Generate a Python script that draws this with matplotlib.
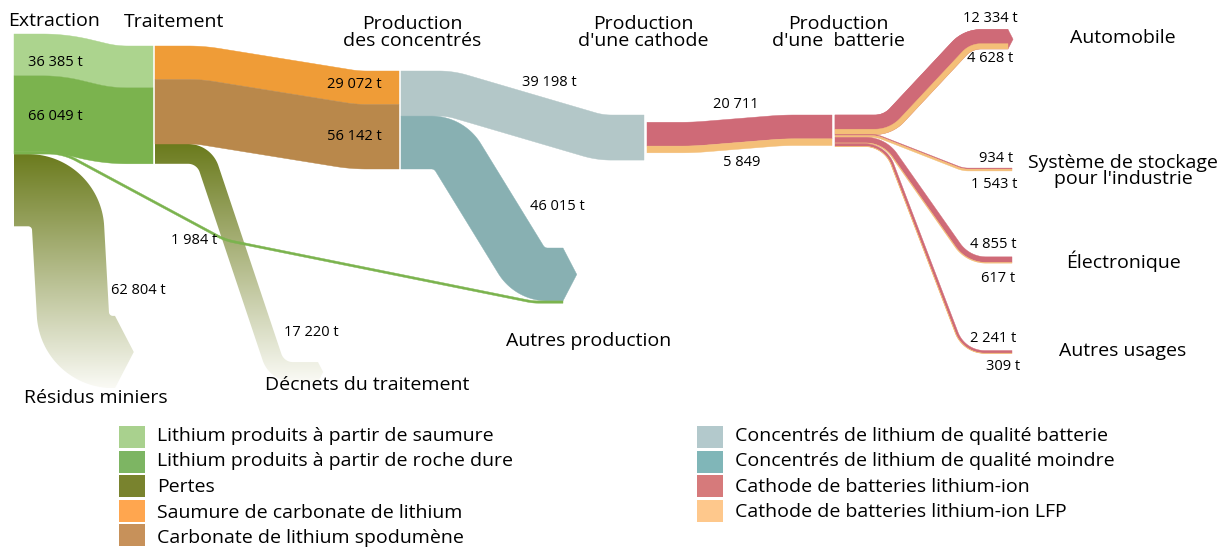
import numpy as np
import matplotlib.pyplot as plt
import matplotlib.colors as mcolors
from matplotlib.patches import Polygon, Rectangle

plt.rcParams['font.family'] = ['Open Sans', 'DejaVu Sans']

# --- données (tonnes de lithium) ---
etapes = ["Extraction", "Traitement", "Production\ndes concentrés",
          "Production\nd'une cathode", "Production\nd'une  batterie"]
extraction_t = [36385, 66049]          # saumure, roche dure
traitement_t = [29072, 56142]          # saumure de carbonate, carbonate spodumène
pertes_t = [62804, 17220]              # résidus miniers, déchets du traitement
roche_vers_autres_t = 1984
concentres_t = [39198, 46015]          # qualité batterie, qualité moindre
cathode_t = [20711, 5849]              # lithium-ion, lithium-ion LFP
usages = ["Automobile", "Système de stockage\npour l'industrie",
          "Électronique", "Autres usages"]
usage_ion_t = [12334, 934, 4855, 2241]
usage_lfp_t = [4628, 1543, 617, 309]
destinations = ["Résidus miniers", "Décnets du traitement", "Autres production"]

legende_g = ["Lithium produits à partir de saumure",
             "Lithium produits à partir de roche dure", "Pertes",
             "Saumure de carbonate de lithium", "Carbonate de lithium spodumène"]
legende_d = ["Concentrés de lithium de qualité batterie",
             "Concentrés de lithium de qualité moindre",
             "Cathode de batteries lithium-ion",
             "Cathode de batteries lithium-ion LFP"]
couleurs_g = ["#a9d18e", "#7db563", "#79832e", "#ffa64f", "#c7915a"]
couleurs_d = ["#b3c9cc", "#80b6b8", "#d67a7b", "#fec88c"]

# couleurs des flux
C_SAUM, C_ROCHE, C_PERTE = "#acd48e", "#7bb34e", "#6b7b1d"
C_ORANGE, C_BRUN = "#ef9c37", "#b9884b"
C_CBAT, C_CMOI = "#b3c7c8", "#88b0b2"
C_ION, C_LFP = "#cf6a77", "#f4bf78"

K = 0.00115  # px par tonne


def t_lab(v, unite=True):
    s = f"{v:,}".replace(",", " ")
    return s + " t" if unite else s


def unit(v):
    return v / np.linalg.norm(v)


def fillet(pts, r, n=40):
    pts = np.asarray(pts, float)
    P, T = [pts[0]], [unit(pts[1] - pts[0])]
    m = len(pts)
    for i in range(1, m - 1):
        p0, p1, p2 = pts[i - 1], pts[i], pts[i + 1]
        d1, d2 = unit(p1 - p0), unit(p2 - p1)
        phi = np.arccos(np.clip(d1 @ d2, -1, 1))
        if phi < 1e-4:
            P.append(p1); T.append(d1)
            continue
        l1 = np.linalg.norm(p1 - p0) * (1.0 if i == 1 else 0.5)
        l2 = np.linalg.norm(p2 - p1) * (1.0 if i == m - 2 else 0.5)
        t = min(r * np.tan(phi / 2), l1, l2)
        rr = t / np.tan(phi / 2)
        s = np.sign(d1[0] * d2[1] - d1[1] * d2[0])
        nv = s * np.array([-d1[1], d1[0]])
        c = p1 - d1 * t + nv * rr
        for k in range(n + 1):
            a = s * phi * k / n
            ca, sa = np.cos(a), np.sin(a)
            tk = np.array([d1[0] * ca - d1[1] * sa, d1[0] * sa + d1[1] * ca])
            nk = s * np.array([-tk[1], tk[0]])
            P.append(c - nk * rr); T.append(tk)
    P.append(pts[-1]); T.append(unit(pts[-1] - pts[-2]))
    return np.array(P), np.array(T)


def ribbon(pts, r, lo, hi, arrow=False):
    P, T = fillet(pts, r)
    N = np.column_stack([-T[:, 1], T[:, 0]])
    parts = [P + lo * N]
    if arrow:
        tip = P[-1] + 0.5 * (lo + hi) * N[-1] + T[-1] * 0.26 * (hi - lo)
        parts.append(tip[None])
    parts.append((P + hi * N)[::-1])
    return np.vstack(parts)


def draw(ax, xy, color, z=2):
    ax.add_patch(Polygon(xy, closed=True, fc=color, ec=color, lw=0.3, zorder=z))


def draw_grad(ax, xy, color):
    patch = Polygon(xy, closed=True, fc='none', ec='none')
    ax.add_patch(patch)
    t = np.linspace(0, 1, 256)[:, None]
    img = np.array(mcolors.to_rgb(color)) * (1 - t) + np.array([0.98, 0.98, 0.96]) * t
    im = ax.imshow(img[:, None, :], extent=(xy[:, 0].min(), xy[:, 0].max(),
                                           xy[:, 1].max(), xy[:, 1].min()),
                   aspect='auto', interpolation='bilinear', zorder=1)
    im.set_clip_path(patch)


fig = plt.figure(figsize=(12.27, 5.51), dpi=100)
ax = fig.add_axes([0, 0, 1, 1])

# --- Extraction -> Traitement ---
w_ext = [v * K for v in extraction_t]
gw = sum(w_ext)
y0, y1 = 34, 46
c0, c1 = y0 + gw / 2, y1 + gw / 2
path = [(14, c0), (60, c0), (110, c1), (153, c1)]
draw(ax, ribbon(path, 150, -gw / 2, -gw / 2 + w_ext[0]), C_SAUM)
draw(ax, ribbon(path, 150, -gw / 2 + w_ext[0], gw / 2), C_ROCHE)

w_line = roche_vers_autres_t * K
w_res = pertes_t[0] * K
y_line = y0 + gw + w_line / 2
c_res = y0 + gw + w_line + w_res / 2
draw_grad(ax, ribbon([(14, c_res), (66, c_res), (75, 352), (115, 352)], 40,
                     -w_res / 2, w_res / 2, arrow=True), C_PERTE)

# --- Traitement -> Concentrés ---
w_trt = [v * K for v in traitement_t]
gt = sum(w_trt)
c0, c1 = 46 + gt / 2, 71 + gt / 2
path = [(155, c0), (200, c0), (355, c1), (399, c1)]
draw(ax, ribbon(path, 150, -gt / 2, -gt / 2 + w_trt[0]), C_ORANGE)
draw(ax, ribbon(path, 150, -gt / 2 + w_trt[0], gt / 2), C_BRUN)

w_dech = pertes_t[1] * K
c_d = 46 + gt + w_dech / 2
draw_grad(ax, ribbon([(155, c_d), (204, c_d), (277, 372), (318, 372)], 22,
                     -w_dech / 2, w_dech / 2, arrow=True), C_PERTE)

# --- Concentrés -> Cathode / Autres production ---
w_c = [v * K for v in concentres_t]
c0 = 71 + w_c[0] / 2
c1 = 115 + w_c[0] / 2
draw(ax, ribbon([(401, c0), (450, c0), (600, c1), (644, c1)], 80,
                -w_c[0] / 2, w_c[0] / 2), C_CBAT)
c0 = 71 + w_c[0] + w_c[1] / 2
c_aut = 248 + w_c[1] / 2
draw(ax, ribbon([(401, c0), (449, c0), (530, c_aut), (563, c_aut)], w_c[1] / 2 + 5,
                -w_c[1] / 2, w_c[1] / 2, arrow=True), C_CMOI)

y_end = 248 + w_c[1] + w_line / 2
draw(ax, ribbon([(14, y_line), (63, y_line), (225, 240), (533, y_end), (563, y_end)], 60,
                -w_line / 2, w_line / 2), C_ROCHE, z=3)

# --- Cathode -> Batterie ---
w_k = [v * K for v in cathode_t]
gk = sum(w_k)
c0 = 115 + (w_c[0] - gk) / 2 + gk / 2
c1 = 115 + gk / 2
path = [(647, c0), (693, c0), (783, c1), (832, c1)]
draw(ax, ribbon(path, 300, -gk / 2, -gk / 2 + w_k[0]), C_ION)
draw(ax, ribbon(path, 300, -gk / 2 + w_k[0], gk / 2), C_LFP)

# --- Batterie -> usages ---
fin_y = [None, 169.5, 260, 352]
coude = [(888, 968), (877, 963), (884, 968), (885, 964)]
rayon = [30, 30, 35, 30]
y = 115
for i in range(len(usages)):
    wi, wl = usage_ion_t[i] * K, usage_lfp_t[i] * K
    g = wi + wl
    c = y + g / 2
    e = 29.5 + g / 2 if i == 0 else fin_y[i]
    xe = 1008 if i == 0 else 1012
    path = [(835, c), (coude[i][0], c), (coude[i][1], e), (xe, e)]
    if i == 0:
        draw(ax, ribbon(path, rayon[i], -g / 2, g / 2, arrow=True), C_ION, z=1)
    draw(ax, ribbon(path, rayon[i], -g / 2, -g / 2 + wi), C_ION)
    draw(ax, ribbon(path, rayon[i], -g / 2 + wi, g / 2), C_LFP)
    y += g

# --- textes ---
FT, FV = 14, 10.5
ax.text(8, 21, etapes[0], fontsize=FT, ha='left', va='center')
ax.text(174, 22, etapes[1], fontsize=FT, ha='center', va='center')
for x, s in zip([412, 643, 838], etapes[2:]):
    ax.text(x, 32.5, s, fontsize=FT, ha='center', va='center', linespacing=0.92)

vals = [(55, 62, t_lab(extraction_t[0])), (55, 116, t_lab(extraction_t[1])),
        (354, 85, t_lab(traitement_t[0])), (354, 137, t_lab(traitement_t[1])),
        (549, 83, t_lab(concentres_t[0])), (557, 207, t_lab(concentres_t[1])),
        (736, 105, t_lab(cathode_t[0], False)), (742, 163, t_lab(cathode_t[1], False)),
        (194, 240, t_lab(roche_vers_autres_t)), (138, 291, t_lab(pertes_t[0])),
        (311, 332, t_lab(pertes_t[1]))]
for x, yy, s in vals:
    ax.text(x, yy, s, fontsize=FV, ha='center', va='center')

ion_pos = [(990, 19), (996, 158), (993, 244), (993, 338)]
lfp_pos = [(990, 58), (994, 185), (998, 278), (1003, 366)]
use_y = [38, 171, 261, 351]
for i, u in enumerate(usages):
    ax.text(*ion_pos[i], t_lab(usage_ion_t[i]), fontsize=FV, ha='center', va='center')
    ax.text(*lfp_pos[i], t_lab(usage_lfp_t[i]), fontsize=FV, ha='center', va='center')
    ax.text(1123, use_y[i], u, fontsize=FT, ha='center', va='center', linespacing=0.92)

for (x, yy), s in zip([(96, 398), (367, 385), (589, 341)], destinations):
    ax.text(x, yy, s, fontsize=FT, ha='center', va='center')

# --- légende ---
for j, (lab, col) in enumerate(zip(legende_g, couleurs_g)):
    yy = 426 + j * 24.5
    ax.add_patch(Rectangle((119, yy), 26, 22, fc=col, ec='none'))
    ax.text(157, 436 + j * 25.5, lab, fontsize=FT, ha='left', va='center')
for j, (lab, col) in enumerate(zip(legende_d, couleurs_d)):
    yy = 426 + j * 24.5
    ax.add_patch(Rectangle((697, yy), 26, 22, fc=col, ec='none'))
    ax.text(735, 436 + j * 25.3, lab, fontsize=FT, ha='left', va='center')

ax.set_xlim(0, 1227)
ax.set_ylim(551, 0)
ax.set_axis_off()
fig.savefig("out.png", dpi=100)
